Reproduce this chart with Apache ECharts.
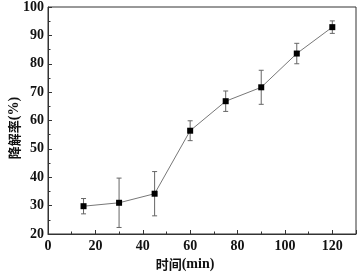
<!DOCTYPE html>
<html><head><meta charset="utf-8">
<script src="https://cdn.jsdelivr.net/npm/echarts@6/dist/echarts.min.js"></script>
<style>html,body{margin:0;padding:0;background:#fff}#c{width:359px;height:273px}</style>
</head><body><div id="c"></div>
<script>
var times = [15, 30, 45, 60, 75, 90, 105, 120];
var rates = [29.8, 31.0, 34.2, 56.4, 66.8, 71.7, 83.6, 92.9];
var errors = [2.7, 8.7, 7.8, 3.5, 3.6, 6.0, 3.6, 2.2];
var xTitleCJK = '时间', xTitleUnit = '(min)';
var yTitleCJK = '降解率', yTitleUnit = '(%)';

var pts = times.map(function(t, i){ return [t, rates[i]]; });
var errData = times.map(function(t, i){ return [t, rates[i] - errors[i], rates[i] + errors[i]]; });
var font = "'Liberation Serif', 'Times New Roman', serif";
var cjk = "'Noto Sans CJK SC', sans-serif";
var rich = {
  c: {fontFamily: cjk, fontSize: 13, fontWeight: 'bold', fill: '#111', color: '#111'},
  u: {fontFamily: font, fontSize: 14, fontWeight: 'bold', fill: '#111', color: '#111'}
};
var chart = echarts.init(document.getElementById('c'));
chart.setOption({
  animation: false,
  grid: {left: 48, right: 3, top: 7, bottom: 39, show: true, borderColor: '#333', borderWidth: 1, backgroundColor: 'transparent', containLabel: false, outerBoundsMode: 'none'},
  graphic: [
    {type: 'text', x: 185, y: 264, style: {text: '{c|' + xTitleCJK + '}{u|' + xTitleUnit + '}', rich: rich, align: 'center', verticalAlign: 'middle'}},
    {type: 'text', x: 14, y: 128, rotation: Math.PI / 2, style: {text: '{c|' + yTitleCJK + '}{u|' + yTitleUnit + '}', rich: rich, align: 'center', verticalAlign: 'middle'}}
  ],
  xAxis: {
    type: 'value', min: 0, max: 130, interval: 20,
    axisLine: {lineStyle: {color: '#333'}},
    axisTick: {inside: true, length: 4, lineStyle: {color: '#333'}},
    minorTick: {show: true, splitNumber: 2, length: 2.5, lineStyle: {color: '#333'}},
    splitLine: {show: false},
    axisLabel: {fontFamily: font, fontSize: 14, fontWeight: 'bold', color: '#111', margin: 5,
      formatter: function(v){ return v > 120 ? '' : v; }}
  },
  yAxis: {
    type: 'value', min: 20, max: 100, interval: 10,
    axisLine: {lineStyle: {color: '#333'}},
    axisTick: {inside: true, length: 4, lineStyle: {color: '#333'}},
    minorTick: {show: true, splitNumber: 2, length: 2.5, lineStyle: {color: '#333'}},
    splitLine: {show: false},
    axisLabel: {fontFamily: font, fontSize: 14, fontWeight: 'bold', color: '#111', margin: 4}
  },
  series: [
    {
      type: 'line', data: pts, symbol: 'rect', symbolSize: 6,
      itemStyle: {color: '#000'}, lineStyle: {color: '#777', width: 1}, z: 3
    },
    {
      type: 'custom', data: errData, z: 2,
      renderItem: function(params, api){
        var x = api.value(0);
        var lo = api.coord([x, api.value(1)]);
        var hi = api.coord([x, api.value(2)]);
        var hw = 2.5;
        var st = {stroke: '#666', lineWidth: 1};
        return {type: 'group', children: [
          {type: 'line', shape: {x1: lo[0], y1: lo[1], x2: hi[0], y2: hi[1]}, style: st},
          {type: 'line', shape: {x1: lo[0]-hw, y1: lo[1], x2: lo[0]+hw, y2: lo[1]}, style: st},
          {type: 'line', shape: {x1: hi[0]-hw, y1: hi[1], x2: hi[0]+hw, y2: hi[1]}, style: st}
        ]};
      }
    }
  ]
});
</script></body></html>
